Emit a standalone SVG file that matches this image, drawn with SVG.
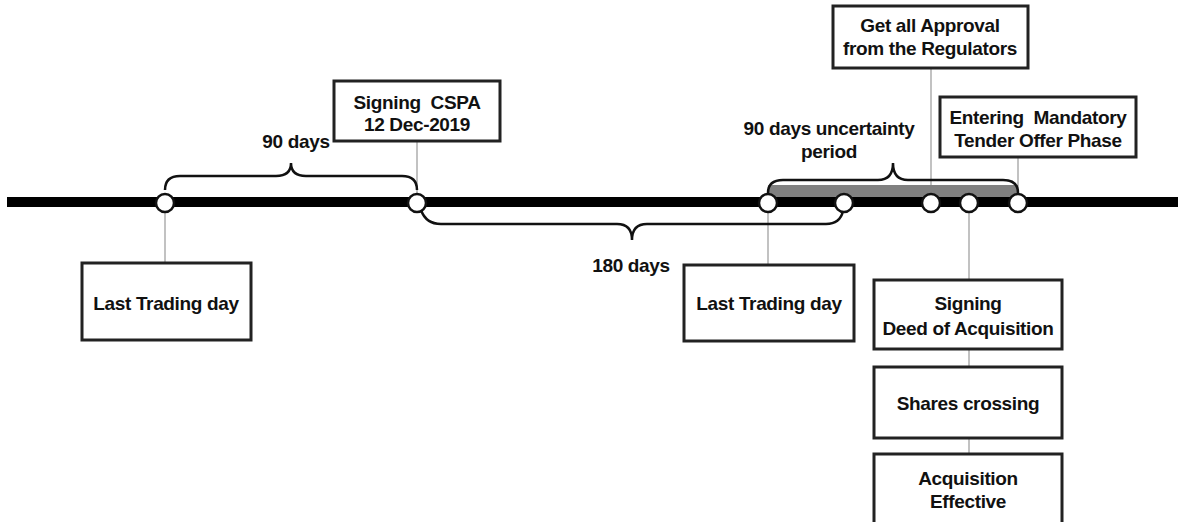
<svg xmlns="http://www.w3.org/2000/svg" width="1178" height="522" viewBox="0 0 1178 522">
<style>
.box{fill:#fff;stroke:#222;stroke-width:3}
.t{font-family:"Liberation Sans",Arial,sans-serif;font-weight:bold;font-size:19px;letter-spacing:-0.35px;fill:#111;text-anchor:middle;white-space:pre}
.conn{stroke:#999;stroke-width:1.2;fill:none}
.brace{stroke:#111;stroke-width:2.5;fill:none}
.dot{fill:#fff;stroke:#111;stroke-width:2.5}
</style>
<rect width="1178" height="522" fill="#fff"/>
<g id="connectors">
<line class="conn" x1="165" y1="203" x2="165" y2="263"/>
<line class="conn" x1="417" y1="141" x2="417" y2="203"/>
<line class="conn" x1="768" y1="203" x2="768" y2="265"/>
<line class="conn" x1="931" y1="68" x2="931" y2="203"/>
<line class="conn" x1="1018" y1="157" x2="1018" y2="203"/>
<line class="conn" x1="969" y1="203" x2="969" y2="455"/>
</g>
<g id="timeline">
<rect x="7" y="197" width="1171" height="10" fill="#000"/>
<rect x="768" y="185" width="250" height="12" fill="#808080"/>
</g>
<g id="braces">
<path class="brace" d="M165,190 Q165,176 180,176 L276,176 Q291,176 291,163 Q291,176 306,176 L402,176 Q417,176 417,190"/>
<path class="brace" d="M421,210 Q426,224 441,224 L617,224 Q632,224 632,240 Q632,224 647,224 L826,224 Q840,224 843,211"/>
<path class="brace" d="M768,193 Q768,180 783,180 L878,180 Q893,180 893,163 Q893,180 908,180 L1003,180 Q1018,180 1018,193"/>
</g>
<g id="dots">
<circle class="dot" cx="165" cy="203" r="9"/>
<circle class="dot" cx="417" cy="203" r="9"/>
<circle class="dot" cx="768" cy="203" r="9"/>
<circle class="dot" cx="844" cy="203" r="9"/>
<circle class="dot" cx="931" cy="203" r="9"/>
<circle class="dot" cx="969" cy="203" r="9"/>
<circle class="dot" cx="1018" cy="203" r="9"/>
</g>
<g id="label-90days"><text class="t" x="296" y="148">90 days</text></g>
<g id="label-180days"><text class="t" x="631" y="272">180 days</text></g>
<g id="label-uncertainty"><text class="t" x="829" y="135">90 days uncertainty</text><text class="t" x="829" y="158">period</text></g>
<g id="node-last-trading-1">
<rect class="box" x="82" y="263" width="169" height="77"/>
<text class="t" x="166" y="310">Last Trading day</text>
</g>
<g id="node-signing-cspa">
<rect class="box" x="334" y="81" width="166" height="60"/>
<text class="t" x="417" y="109">Signing  CSPA</text>
<text class="t" x="417" y="131">12 Dec-2019</text>
</g>
<g id="node-last-trading-2">
<rect class="box" x="684" y="265" width="170" height="76"/>
<text class="t" x="769" y="310">Last Trading day</text>
</g>
<g id="node-approval">
<rect class="box" x="833" y="6" width="195" height="62"/>
<text class="t" x="930" y="32">Get all Approval</text>
<text class="t" x="930" y="55">from the Regulators</text>
</g>
<g id="node-tender">
<rect class="box" x="940" y="97" width="196" height="60"/>
<text class="t" x="1038" y="124">Entering  Mandatory</text>
<text class="t" x="1038" y="147">Tender Offer Phase</text>
</g>
<g id="node-deed">
<rect class="box" x="874" y="280" width="188" height="69"/>
<text class="t" x="968" y="310">Signing</text>
<text class="t" x="968" y="335">Deed of Acquisition</text>
</g>
<g id="node-shares">
<rect class="box" x="874" y="367" width="188" height="71"/>
<text class="t" x="968" y="410">Shares crossing</text>
</g>
<g id="node-effective">
<rect class="box" x="874" y="454" width="188" height="80"/>
<text class="t" x="968" y="485">Acquisition</text>
<text class="t" x="968" y="508">Effective</text>
</g>
</svg>
